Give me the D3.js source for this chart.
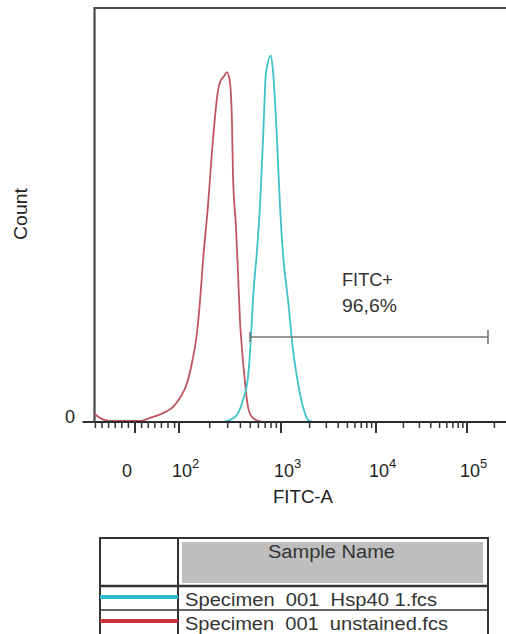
<!DOCTYPE html>
<html>
<head>
<meta charset="utf-8">
<script src="https://cdn.jsdelivr.net/npm/d3@7"></script>
<style>
  html, body { margin: 0; padding: 0; background: #fff; }
  svg { display: block; font-family: "Liberation Sans", Arial, sans-serif; }
  text { white-space: pre; }
</style>
</head>
<body>
<div id="chart"></div>
<script>
// FITC-A values (biexponential axis) and counts
var unstainedX = [-92, -80, -60, 11, 34, 64, 86, 102, 120, 134, 150, 161, 172, 192, 215, 241, 252, 276, 296,
  316, 331, 338, 362, 379, 396, 415, 444, 475, 531, 666, 2000, 20000, 262144];
var unstainedY = [4, 2, 0.5, 0.5, 2, 4.3, 7.2, 11.6, 18.8, 28.5, 43, 59, 78, 104, 136, 160, 164, 167, 169,
  164, 144, 120, 94, 72, 49, 35, 19, 7.2, 1.9, 0, 0, 0, 0];

var hspX = [270, 354, 424, 475, 508, 531, 582, 622, 666, 713, 798, 836, 915, 978, 1050, 1185, 1337, 1509, 1706, 1925, 2172];
var hspY = [0, 2.4, 10.6, 21.7, 41, 59, 83, 104, 136, 169, 177, 169, 136, 104, 81, 59, 35, 19, 7.2, 1, 0];

var majorTicks = [0, 100, 1000, 10000, 100000];
var majorLabels = [['0', ''], ['10', '2'], ['10', '3'], ['10', '4'], ['10', '5']];
var gate = [497, 170000];
var gateName = 'FITC+';
var gatePct = '96,6%';
var sampleNames = ['Specimen  001  Hsp40 1.fcs', 'Specimen  001  unstained.fcs'];
var sampleColors = ['#2fb9cf', '#c8323f'];
var lineColors = ['#3fc2c9', '#bf5560'];

var W = 506, H = 634;
var svg = d3.select('#chart').append('svg').attr('width', W).attr('height', H);

// linear below 100, log above (tangent at 100)
function tr(v) {
  return v >= 100 ? Math.log10(v) : 2 + (v - 100) / (100 * Math.LN10);
}
var xt = d3.scaleLinear().domain([tr(0), 2, 3, 4, 5]).range([135, 179, 281, 376, 467]);
function x(v) { return xt(tr(v)); }
var y = d3.scaleLinear().domain([0, 200]).range([422, 8]);

var plotL = x(-92), plotR = x(262144) + 4, plotT = y(200), plotB = y(0);

// frame
svg.append('path')
  .attr('d', 'M' + plotR + ',' + plotT + 'H' + plotL + 'V' + plotB)
  .attr('fill', 'none').attr('stroke', '#4a4a4a').attr('stroke-width', 2.2);

// curves
var line = d3.line()
  .x(function(d) { return x(d[0]); })
  .y(function(d) { return y(d[1]); })
  .curve(d3.curveMonotoneX);

svg.append('path')
  .datum(d3.zip(unstainedX, unstainedY))
  .attr('d', line).attr('fill', 'none')
  .attr('stroke', lineColors[1]).attr('stroke-width', 1.8);

svg.append('path')
  .datum(d3.zip(hspX, hspY))
  .attr('d', line).attr('fill', 'none')
  .attr('stroke', lineColors[0]).attr('stroke-width', 1.8);

// x axis baseline
svg.append('line')
  .attr('x1', plotL).attr('x2', W).attr('y1', plotB).attr('y2', plotB)
  .attr('stroke', '#2a2a2a').attr('stroke-width', 2);

// minor ticks
var minor = d3.range(-90, 91, 15).filter(function(v) { return v !== 0; });
[100, 1000, 10000, 100000].forEach(function(dec) {
  d3.range(2, 10).forEach(function(m) { if (dec * m <= 262144) minor.push(dec * m); });
});
svg.selectAll('.minor').data(minor).enter().append('line')
  .attr('class', 'minor')
  .attr('x1', x).attr('x2', x)
  .attr('y1', plotB - 1).attr('y2', plotB + 6)
  .attr('stroke', '#333').attr('stroke-width', 1.5);

svg.selectAll('.major').data(majorTicks).enter().append('line')
  .attr('class', 'major')
  .attr('x1', x).attr('x2', x)
  .attr('y1', plotB - 1).attr('y2', plotB + 11)
  .attr('stroke', '#333').attr('stroke-width', 2);

var lab = svg.selectAll('.xlab').data(majorTicks).enter().append('text')
  .attr('class', 'xlab')
  .attr('x', function(d, i) { return i === 0 ? x(d) - 13 : x(d) - 7; })
  .attr('y', 477)
  .attr('font-size', 18).attr('fill', '#222');
lab.append('tspan').text(function(d, i) { return majorLabels[i][0]; });
lab.append('tspan').attr('dy', -9).attr('font-size', 13)
  .text(function(d, i) { return majorLabels[i][1]; });

svg.append('text').attr('x', 273).attr('y', 503)
  .attr('textLength', 60).attr('lengthAdjust', 'spacingAndGlyphs')
  .attr('font-size', 18).attr('fill', '#222').text('FITC-A');

// y axis
svg.append('line').attr('x1', plotL - 12).attr('x2', plotL).attr('y1', plotB).attr('y2', plotB)
  .attr('stroke', '#333').attr('stroke-width', 2);
svg.append('text').attr('x', 70).attr('y', 423).attr('text-anchor', 'middle')
  .attr('font-size', 18).attr('fill', '#222').text('0');
svg.append('text').attr('transform', 'translate(27,240) rotate(-90)')
  .attr('textLength', 52).attr('lengthAdjust', 'spacingAndGlyphs')
  .attr('font-size', 18).attr('fill', '#222').text('Count');

// gate
var gy = 337;
svg.append('path')
  .attr('d', 'M' + x(gate[0]) + ',' + (gy - 5) + 'V' + (gy + 5) + 'M' + x(gate[0]) + ',' + gy +
    'H' + x(gate[1]) + 'M' + x(gate[1]) + ',' + (gy - 7) + 'V' + (gy + 7))
  .attr('fill', 'none').attr('stroke', '#777').attr('stroke-width', 1.6);
svg.append('text').attr('x', 342).attr('y', 286).attr('font-size', 18)
  .attr('textLength', 51).attr('lengthAdjust', 'spacingAndGlyphs')
  .attr('fill', '#333').text(gateName);
svg.append('text').attr('x', 342).attr('y', 312).attr('font-size', 18)
  .attr('textLength', 55).attr('lengthAdjust', 'spacingAndGlyphs')
  .attr('fill', '#333').text(gatePct);

// legend table
var lg = svg.append('g');
lg.append('rect').attr('x', 182).attr('y', 542).attr('width', 301).attr('height', 41).attr('fill', '#bebebe');
lg.append('rect').attr('x', 100).attr('y', 538).attr('width', 388).attr('height', 110)
  .attr('fill', 'none').attr('stroke', '#333').attr('stroke-width', 2);
lg.append('line').attr('x1', 178).attr('x2', 178).attr('y1', 538).attr('y2', 648)
  .attr('stroke', '#333').attr('stroke-width', 2);
lg.append('line').attr('x1', 100).attr('x2', 488).attr('y1', 586).attr('y2', 586)
  .attr('stroke', '#333').attr('stroke-width', 2.5);
lg.append('line').attr('x1', 100).attr('x2', 488).attr('y1', 610).attr('y2', 610)
  .attr('stroke', '#333').attr('stroke-width', 1.5);
lg.append('text').attr('x', 268).attr('y', 558)
  .attr('textLength', 127).attr('lengthAdjust', 'spacingAndGlyphs')
  .attr('font-size', 18).attr('fill', '#333').text('Sample Name');

var nameWidths = [252, 263];
lg.selectAll('.sw').data(sampleNames).enter().append('line')
  .attr('x1', 100).attr('x2', 178)
  .attr('y1', function(d, i) { return 597 + i * 24; })
  .attr('y2', function(d, i) { return 597 + i * 24; })
  .attr('stroke', function(d, i) { return sampleColors[i]; }).attr('stroke-width', 4);
lg.selectAll('.sn').data(sampleNames).enter().append('text')
  .attr('x', 185).attr('y', function(d, i) { return 606 + i * 24; })
  .attr('textLength', function(d, i) { return nameWidths[i]; })
  .attr('lengthAdjust', 'spacingAndGlyphs')
  .attr('font-size', 18).attr('fill', '#333').text(function(d) { return d; });
</script>
</body>
</html>
